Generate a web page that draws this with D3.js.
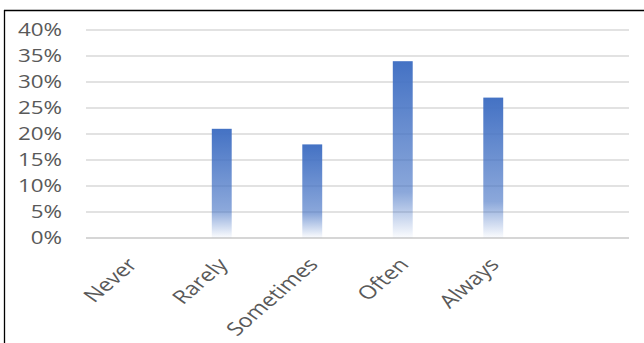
<!DOCTYPE html>
<html>
<head>
<meta charset="utf-8">
<script src="https://cdn.jsdelivr.net/npm/d3@7"></script>
<style>
  html, body { margin: 0; padding: 0; background: #fff; }
  svg { display: block; }
  text { font-family: "Open Sans", sans-serif; fill: #595959; }
</style>
</head>
<body>
<svg id="chart" width="644" height="343"></svg>
<script>
// survey answers, last slot is an empty category as in the source chart
var categories = ["Never", "Rarely", "Sometimes", "Often", "Always", ""];
var shares = [0, 0.21, 0.18, 0.34, 0.27, null];
var yTicks = [0, 0.05, 0.10, 0.15, 0.20, 0.25, 0.30, 0.35, 0.40];

var width = 644, height = 343;
var plot = { left: 86, right: 629, top: 30, bottom: 238 };
var stretch = 1.28; // the picture is wider than it is tall, text gets stretched too

var svg = d3.select("#chart");

// frame lines (only top and left show in the source)
svg.append("line")
    .attr("x1", 4).attr("x2", width).attr("y1", 10.5).attr("y2", 10.5)
    .attr("stroke", "#000").attr("stroke-width", 1.3);
svg.append("line")
    .attr("x1", 4.5).attr("x2", 4.5).attr("y1", 10).attr("y2", height)
    .attr("stroke", "#000").attr("stroke-width", 1.3);

var x = d3.scaleBand()
    .domain(categories.map(function(d, i) { return i; }))
    .range([plot.left, plot.right])
    .paddingInner(0.78)
    .paddingOuter(0.39);

var y = d3.scaleLinear()
    .domain([0, 0.4])
    .range([plot.bottom, plot.top]);

// bar gradient: solid blue on top fading out toward the base
var defs = svg.append("defs");
var grad = defs.append("linearGradient")
    .attr("id", "barFade")
    .attr("x1", 0).attr("x2", 0).attr("y1", 0).attr("y2", 1);
grad.append("stop").attr("offset", "0%").attr("stop-color", "#4472c4").attr("stop-opacity", 1);
grad.append("stop").attr("offset", "74%").attr("stop-color", "#4472c4").attr("stop-opacity", 0.62);
grad.append("stop").attr("offset", "100%").attr("stop-color", "#4472c4").attr("stop-opacity", 0.02);

// gridlines
svg.append("g").selectAll("line")
    .data(yTicks)
    .enter().append("line")
    .attr("x1", plot.left).attr("x2", plot.right)
    .attr("y1", function(d) { return y(d); })
    .attr("y2", function(d) { return y(d); })
    .attr("stroke", function(d) { return d === 0 ? "#c8c8c8" : "#d9d9d9"; })
    .attr("stroke-width", 1.5);

// y tick labels
svg.append("g").selectAll("text")
    .data(yTicks)
    .enter().append("text")
    .attr("transform", function(d) { return "translate(62," + y(d) + ") scale(" + stretch + ",1)"; })
    .attr("text-anchor", "end")
    .attr("dy", "0.36em")
    .style("font-size", "17.5px")
    .text(d3.format(".0%"));

// bars
svg.append("g").selectAll("rect")
    .data(shares.map(function(v, i) { return { i: i, v: v }; }).filter(function(d) { return d.v > 0; }))
    .enter().append("rect")
    .attr("x", function(d) { return x(d.i); })
    .attr("width", x.bandwidth())
    .attr("y", function(d) { return y(d.v); })
    .attr("height", function(d) { return y(0) - y(d.v); })
    .attr("fill", "url(#barFade)");

// category labels, rotated
svg.append("g").selectAll("text")
    .data(categories)
    .enter().append("text")
    .attr("transform", function(d, i) {
        return "translate(" + (x(i) + x.bandwidth() / 2 + 1) + ",261) scale(" + stretch + ",1) rotate(-48)";
    })
    .attr("text-anchor", "end")
    .attr("dy", "0.35em")
    .style("font-size", "18.5px")
    .text(function(d) { return d; });
</script>
</body>
</html>
